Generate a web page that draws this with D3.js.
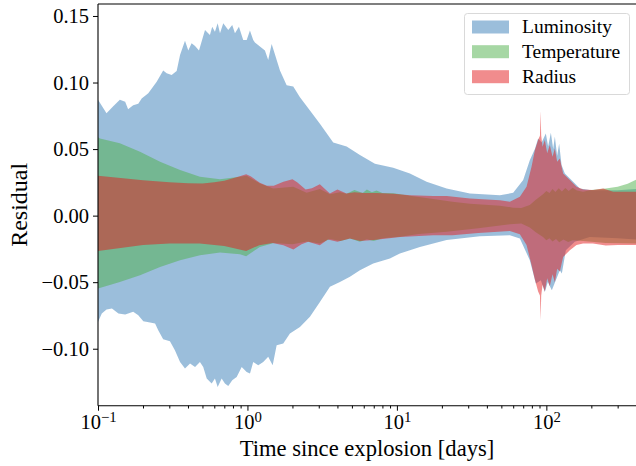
<!DOCTYPE html>
<html>
<head>
<meta charset="utf-8">
<script src="https://cdn.jsdelivr.net/npm/d3@7"></script>
<style>
  html, body { margin: 0; padding: 0; background: #fff; }
  svg text { font-family: "Liberation Serif", "DejaVu Serif", serif; fill: #000; }
</style>
</head>
<body>
<svg id="chart" width="636" height="466"></svg>
<script>
// Residual bands: [days, residual] pairs for each envelope edge
const seriesNames = ["Luminosity", "Temperature", "Radius"];
const seriesColors = ["#377eb8", "#4daf4a", "#e41a1c"];

const lumUpper = [
  [0.1, 0.087], [0.114, 0.077], [0.126, 0.082], [0.14, 0.087], [0.152, 0.0856], [0.159, 0.080],
  [0.172, 0.083], [0.186, 0.084], [0.196, 0.088], [0.217, 0.092], [0.247, 0.1006], [0.273, 0.109],
  [0.288, 0.107], [0.311, 0.1056], [0.336, 0.1086], [0.354, 0.1207], [0.382, 0.1314], [0.402, 0.124],
  [0.423, 0.1295], [0.446, 0.1274], [0.474, 0.124], [0.52, 0.1395], [0.561, 0.1357], [0.581, 0.142],
  [0.606, 0.1382], [0.632, 0.1445], [0.655, 0.137], [0.689, 0.1445], [0.744, 0.1395], [0.791, 0.1432],
  [0.825, 0.137], [0.877, 0.142], [0.937, 0.132], [0.988, 0.132], [1.039, 0.139], [1.093, 0.132],
  [1.122, 0.13], [1.212, 0.127], [1.309, 0.124], [1.377, 0.117], [1.452, 0.129], [1.528, 0.121],
  [1.65, 0.109], [1.829, 0.098], [2.025, 0.097], [2.245, 0.089], [2.619, 0.079], [3.054, 0.069],
  [3.749, 0.055], [4.608, 0.052], [5.656, 0.0455], [7.126, 0.039], [9.448, 0.036], [12.22, 0.0317],
  [15.8, 0.0254], [21.5, 0.0204], [30.8, 0.0167], [48.9, 0.0154], [60.0, 0.0171], [70.0, 0.0267],
  [77.5, 0.0417], [83.8, 0.050], [88.1, 0.058], [93.0, 0.055], [99.2, 0.0618], [102.8, 0.052],
  [107.2, 0.0623], [111.1, 0.050], [114.0, 0.0593], [118.1, 0.045], [121.8, 0.054], [126.4, 0.038],
  [133.0, 0.0317], [151.1, 0.0254], [167.5, 0.0204], [200, 0.019], [300, 0.019], [400, 0.020]
];
const lumLower = [
  [0.1, -0.080], [0.106, -0.0735], [0.114, -0.0705], [0.124, -0.0698], [0.137, -0.0735], [0.152, -0.0743],
  [0.172, -0.0723], [0.186, -0.0748], [0.201, -0.0793], [0.223, -0.0803], [0.241, -0.0811], [0.253, -0.0861],
  [0.273, -0.0929], [0.303, -0.0944], [0.327, -0.1011], [0.354, -0.110], [0.382, -0.1149], [0.413, -0.1111],
  [0.446, -0.1137], [0.481, -0.110], [0.506, -0.1137], [0.534, -0.1224], [0.576, -0.1262], [0.606, -0.1224],
  [0.632, -0.1287], [0.672, -0.1224], [0.707, -0.1262], [0.744, -0.128], [0.791, -0.1237], [0.847, -0.1212],
  [0.915, -0.1137], [0.988, -0.1174], [1.04, -0.1187], [1.093, -0.110], [1.181, -0.1124], [1.275, -0.110],
  [1.377, -0.106], [1.475, -0.1124], [1.568, -0.0974], [1.736, -0.096], [1.924, -0.0886], [2.245, -0.0836],
  [2.619, -0.076], [3.054, -0.0648], [3.563, -0.0535], [4.156, -0.0498], [4.849, -0.046], [5.656, -0.041],
  [6.942, -0.036], [8.978, -0.0322], [10.47, -0.0284], [14.25, -0.0235], [21.5, -0.0184], [35.9, -0.0154],
  [57.0, -0.0147], [66.5, -0.0171], [77.5, -0.0335], [85.1, -0.051], [91.9, -0.0485], [97.7, -0.0573],
  [102.3, -0.0498], [108.8, -0.056], [115.7, -0.0485], [123.1, -0.041], [127, -0.0435], [135, -0.026],
  [155, -0.0197], [195, -0.016], [300, -0.017], [400, -0.018]
];

const tempUpper = [
  [0.1, 0.0588], [0.103, 0.058], [0.14, 0.0543], [0.191, 0.048], [0.26, 0.0405], [0.354, 0.0342],
  [0.481, 0.0292], [0.655, 0.0274], [0.891, 0.0292], [0.988, 0.030], [1.212, 0.0242], [1.49, 0.0204],
  [2.025, 0.0217], [2.49, 0.0171], [3.054, 0.0200], [3.563, 0.016], [4.156, 0.0175], [4.6, 0.0165],
  [5.2, 0.0192], [5.9, 0.017], [6.3, 0.0197], [6.8, 0.0175], [7.3, 0.0188], [8.0, 0.017], [9.5, 0.0168],
  [12.2, 0.015], [17.5, 0.0125], [23.5, 0.0104], [30.8, 0.009], [48.9, 0.0075], [60, 0.006], [68, 0.0058],
  [77.5, 0.008], [85, 0.012], [95, 0.016], [100, 0.0185], [105, 0.017], [110, 0.020], [115, 0.0178],
  [121, 0.0205], [127, 0.0182], [134, 0.0208], [141, 0.0185], [150, 0.021], [160, 0.0188], [176, 0.018],
  [200, 0.0192], [250, 0.0204], [300, 0.0217], [350, 0.024], [400, 0.027]
];
const tempLower = [
  [0.1, -0.0548], [0.14, -0.0498], [0.191, -0.0447], [0.26, -0.0385], [0.354, -0.0335], [0.481, -0.0297],
  [0.655, -0.0277], [0.891, -0.029], [0.98, -0.0305], [1.122, -0.026], [1.21, -0.0235], [1.5, -0.0205],
  [2.0, -0.0215], [2.5, -0.0195], [3.05, -0.021], [3.56, -0.0175], [4.2, -0.019], [4.85, -0.0172],
  [5.66, -0.0197], [6.3, -0.0178], [7.0, -0.019], [8.0, -0.017], [10.5, -0.0158], [14, -0.0138],
  [21.5, -0.0122], [35, -0.0095], [57, -0.0065], [68, -0.006], [77.5, -0.009], [85, -0.0125],
  [95, -0.016], [100, -0.0185], [105, -0.017], [110, -0.0195], [116, -0.0175], [122, -0.020],
  [130, -0.018], [140, -0.0198], [150, -0.0185], [176, -0.019], [250, -0.0205], [400, -0.021]
];

const radUpper = [
  [0.1, 0.0299], [0.2, 0.0265], [0.3, 0.025], [0.4, 0.0243], [0.5, 0.0242], [0.6, 0.025], [0.7, 0.0262],
  [0.8, 0.028], [0.9, 0.0298], [0.98, 0.031], [1.05, 0.0295], [1.21, 0.0247], [1.35, 0.0225], [1.5, 0.0224],
  [1.74, 0.0254], [2.0, 0.0274], [2.15, 0.025], [2.45, 0.0197], [2.7, 0.0205], [3.05, 0.0235], [3.3, 0.020],
  [3.56, 0.0167], [4.0, 0.0197], [4.6, 0.0167], [5.2, 0.0175], [6.0, 0.017], [7.3, 0.017], [9.5, 0.0165],
  [12.2, 0.0154], [17.5, 0.0148], [21.5, 0.0147], [30.8, 0.0129], [48.9, 0.0115], [57, 0.0104],
  [66.5, 0.0141], [73.7, 0.0217], [79.6, 0.0367], [83.8, 0.0492], [88.1, 0.0568], [90.6, 0.060],
  [91.5, 0.0786], [92.4, 0.060], [94.3, 0.0517], [97.7, 0.0568], [101.3, 0.0468], [105.5, 0.053],
  [110, 0.0442], [114, 0.0505], [118.1, 0.0405], [123.1, 0.043], [129.5, 0.0317], [143.6, 0.0267],
  [159.2, 0.0217], [176.3, 0.0197], [205.6, 0.0192], [240, 0.0204], [280, 0.0179], [344, 0.0179], [400, 0.018]
];
const radLower = [
  [0.1, -0.0265], [0.2, -0.022], [0.3, -0.021], [0.48, -0.0209], [0.7, -0.0229], [0.98, -0.0265],
  [1.2, -0.0222], [1.47, -0.0205], [1.74, -0.0222], [2.03, -0.0254], [2.3, -0.0215], [2.55, -0.0197],
  [3.05, -0.0222], [3.45, -0.0179], [4.0, -0.0197], [4.85, -0.0172], [5.66, -0.019], [7.0, -0.0184],
  [10.5, -0.016], [17.5, -0.0147], [23.5, -0.0147], [35, -0.013], [57, -0.0115], [66.5, -0.014],
  [73.7, -0.022], [79.6, -0.037], [83.8, -0.048], [88.1, -0.057], [90.6, -0.060], [91.5, -0.0786],
  [92.4, -0.060], [94.3, -0.052], [97.7, -0.057], [101.3, -0.047], [105.5, -0.053], [110, -0.044],
  [114, -0.050], [118.1, -0.040], [123.1, -0.042], [129.5, -0.031], [143.6, -0.026], [159.2, -0.022],
  [176, -0.021], [205, -0.021], [250, -0.0225], [300, -0.022], [400, -0.022]
];

const bands = [
  { upper: lumUpper, lower: lumLower },
  { upper: tempUpper, lower: tempLower },
  { upper: radUpper, lower: radLower }
];

const xTicks = [0.1, 1, 10, 100];
const yTicks = [-0.10, -0.05, 0.00, 0.05, 0.10, 0.15];

// Layout
const W = 636, H = 466;
const margin = { left: 98, right: 0, top: 4, bottom: 60.3 };
const plotW = W - margin.left - margin.right;
const plotH = H - margin.top - margin.bottom;

const svg = d3.select("#chart");

const x = d3.scaleLog().domain([0.1, 398]).range([margin.left, W - margin.right]);
const y = d3.scaleLinear().domain([-0.1428, 0.159]).range([margin.top + plotH, margin.top]);

svg.append("defs").append("clipPath").attr("id", "plotClip")
  .append("rect").attr("x", margin.left).attr("y", margin.top).attr("width", plotW).attr("height", plotH);

const line = d3.line().x(d => x(d[0])).y(d => y(d[1]));

// Each band is a closed ring: upper edge left→right, lower edge right→left
const plot = svg.append("g").attr("clip-path", "url(#plotClip)");
bands.forEach((b, i) => {
  const ring = b.upper.concat(b.lower.slice().reverse());
  plot.append("path")
    .attr("d", line(ring) + "Z")
    .attr("fill", seriesColors[i])
    .attr("fill-opacity", 0.5)
    .attr("stroke", "none");
});

// Axes
const fmtY = d3.format(".2f");
const yAxis = d3.axisLeft(y).tickValues(yTicks).tickFormat(fmtY).tickSize(5).tickPadding(4);
const gy = svg.append("g").attr("transform", `translate(${margin.left},0)`).call(yAxis);
gy.selectAll("text").attr("font-size", 20.5).attr("font-family", "Liberation Serif");

const xAxis = d3.axisBottom(x).tickValues(xTicks).tickSize(5).tickPadding(4).tickFormat(() => "");
const gx = svg.append("g").attr("transform", `translate(0,${margin.top + plotH})`).call(xAxis);
gx.selectAll(".tick text").each(function (d) {
  const e = Math.round(Math.log10(d));
  const t = d3.select(this).attr("font-size", 20.5).attr("font-family", "Liberation Serif");
  t.text("10");
  t.append("tspan").attr("dy", "-0.5em").attr("font-size", "72%").text(e < 0 ? "\u2212" + (-e) : String(e));
});

// Minor log ticks
const minor = [];
[0.1, 1, 10, 100].forEach(dec => { for (let k = 2; k <= 9; k++) { const v = dec * k; if (v <= 398) minor.push(v); } });
svg.append("g").attr("transform", `translate(0,${margin.top + plotH})`)
  .call(d3.axisBottom(x).tickValues(minor).tickSize(2.8).tickFormat(() => ""));

svg.selectAll(".domain").remove();
svg.selectAll(".tick line").attr("stroke", "#000").attr("stroke-width", 1);

// Spines: left, bottom, top
const spines = svg.append("g").attr("stroke", "#000").attr("stroke-width", 1.1);
spines.append("line").attr("x1", margin.left).attr("x2", margin.left).attr("y1", margin.top).attr("y2", margin.top + plotH);
spines.append("line").attr("x1", margin.left).attr("x2", W).attr("y1", margin.top + plotH).attr("y2", margin.top + plotH);
spines.append("line").attr("x1", margin.left).attr("x2", W).attr("y1", margin.top).attr("y2", margin.top);

// Axis titles
svg.append("text")
  .attr("x", 367).attr("y", 455.5)
  .attr("text-anchor", "middle").attr("font-size", 22.6)
  .text("Time since explosion [days]");
svg.append("text")
  .attr("transform", `translate(26.5,${margin.top + plotH / 2}) rotate(-90)`)
  .attr("text-anchor", "middle").attr("font-size", 24)
  .text("Residual");

// Legend
const lg = svg.append("g");
lg.append("rect").attr("x", 464.5).attr("y", 13.5).attr("width", 165).attr("height", 81)
  .attr("rx", 3).attr("fill", "#fff").attr("fill-opacity", 0.8)
  .attr("stroke", "#d9d9d9").attr("stroke-width", 1);
const rowY = [27, 51.7, 76.7];
seriesNames.forEach((name, i) => {
  lg.append("rect").attr("x", 472).attr("y", rowY[i] - 6.5).attr("width", 37).attr("height", 13)
    .attr("fill", seriesColors[i]).attr("fill-opacity", 0.5);
  lg.append("text").attr("x", 522).attr("y", rowY[i] + 6).attr("font-size", 19.5).text(name);
});
</script>
</body>
</html>
